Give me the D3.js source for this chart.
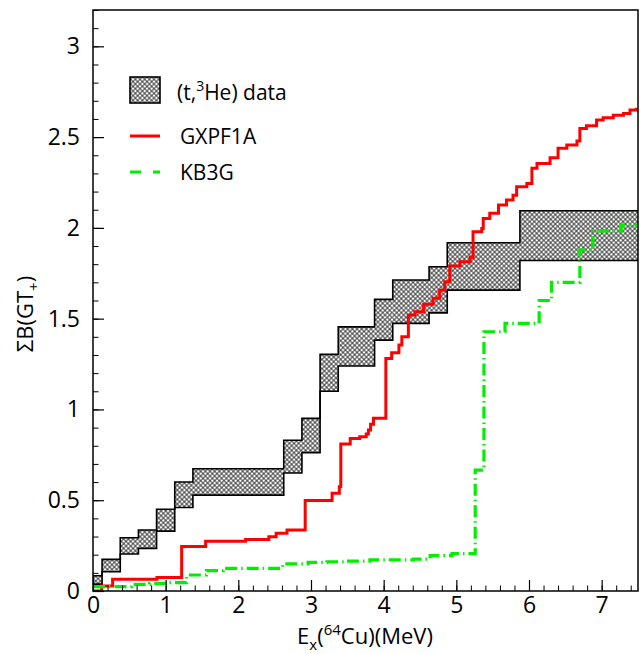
<!DOCTYPE html>
<html>
<head>
<meta charset="utf-8">
<script src="https://cdn.jsdelivr.net/npm/d3@7"></script>
<style>
  body { margin: 0; background: #fff; }
  svg text { font-family: "Open Sans", "DejaVu Sans", sans-serif; fill: #000; }
</style>
</head>
<body>
<svg id="chart" width="640" height="654"></svg>
<script>
// (t,3He) data band: bin edges in MeV and lower / upper sum B(GT+)
const bandEdges = [0, 0.125, 0.375, 0.625, 0.875, 1.125, 1.375, 2.625, 2.875, 3.125, 3.375, 3.875, 4.125, 4.625, 4.875, 5.875, 7.5];
const bandLow  = [0.038, 0.106, 0.204, 0.235, 0.33, 0.46, 0.528, 0.65, 0.762, 1.10, 1.239, 1.382, 1.474, 1.532, 1.657, 1.82];
const bandHigh = [0.084, 0.174, 0.293, 0.336, 0.45, 0.60, 0.673, 0.83, 0.951, 1.303, 1.455, 1.606, 1.713, 1.786, 1.918, 2.094];

// GXPF1A cumulative sum (step after each energy)
const gxE = [0, 0.12, 0.27, 0.88, 1.22, 1.55, 2.10, 2.42, 2.52, 2.67, 2.92, 3.29, 3.39, 3.41, 3.54, 3.67, 3.76, 3.79, 3.82, 3.86,
  4.03, 4.11, 4.21, 4.25, 4.34, 4.43, 4.55, 4.68, 4.77, 4.84, 4.91, 5.05, 5.19, 5.23, 5.35, 5.37, 5.46, 5.58, 5.69, 5.78,
  5.83, 5.97, 6.04, 6.11, 6.29, 6.40, 6.52, 6.66, 6.70, 6.79, 6.93, 7.02, 7.16, 7.30, 7.39, 7.48, 7.5];
const gxSum = [0, 0.028, 0.065, 0.074, 0.245, 0.274, 0.284, 0.299, 0.318, 0.336, 0.498, 0.538, 0.574, 0.81, 0.84, 0.85, 0.865, 0.887, 0.918, 0.951,
  1.281, 1.312, 1.355, 1.40, 1.52, 1.538, 1.58, 1.612, 1.657, 1.703, 1.79, 1.813, 1.838, 1.978, 1.997, 2.052, 2.08, 2.126, 2.153, 2.18,
  2.226, 2.245, 2.328, 2.355, 2.386, 2.438, 2.456, 2.478, 2.548, 2.562, 2.594, 2.606, 2.621, 2.63, 2.649, 2.654, 2.654];

// KB3G cumulative sum
const kbE = [0, 0.53, 0.78, 1.01, 1.29, 1.56, 1.79, 2.61, 2.96, 3.22, 3.49, 3.81, 4.41, 4.64, 4.94, 5.26, 5.38, 5.67, 6.14, 6.31, 6.70, 6.88, 7.27, 7.5];
const kbSum = [0.024, 0.037, 0.042, 0.046, 0.088, 0.112, 0.125, 0.149, 0.158, 0.161, 0.165, 0.171, 0.176, 0.195, 0.206, 0.666, 1.428, 1.474, 1.60, 1.70, 1.878, 1.984, 2.015, 2.015];

const xMajor = [0, 1, 2, 3, 4, 5, 6, 7];
const yMajor = [0, 0.5, 1, 1.5, 2, 2.5, 3];

const svg = d3.select("#chart");
const pLeft = 93, pRight = 638, pTop = 10, pBottom = 591;

const x = d3.scaleLinear().domain([0, 7.5]).range([pLeft, pRight]);
const y = d3.scaleLinear().domain([0, 3.2]).range([pBottom, pTop]);

// cross-hatch pattern
const defs = svg.append("defs");
const pat = defs.append("pattern")
  .attr("id", "hatch")
  .attr("patternUnits", "userSpaceOnUse")
  .attr("width", 3.3).attr("height", 3.3)
  .attr("patternTransform", "rotate(45)");
pat.append("rect").attr("width", 3.3).attr("height", 3.3).attr("fill", "#fff");
pat.append("path").attr("d", "M0,0H3.3M0,3.3H3.3M0,0V3.3M3.3,0V3.3")
  .attr("stroke", "#1a1a1a").attr("stroke-width", 0.8);

defs.append("clipPath").attr("id", "plotClip")
  .append("rect").attr("x", pLeft).attr("y", pTop).attr("width", pRight - pLeft).attr("height", pBottom - pTop);

const plot = svg.append("g").attr("clip-path", "url(#plotClip)");

// band boxes
const boxes = bandLow.map((lo, i) => ({ x0: bandEdges[i], x1: bandEdges[i + 1], lo: lo, hi: bandHigh[i] }));
plot.selectAll(".box")
  .data(boxes)
  .enter().append("rect")
  .attr("class", "box")
  .attr("x", d => x(d.x0))
  .attr("width", d => x(d.x1) - x(d.x0))
  .attr("y", d => y(d.hi))
  .attr("height", d => y(d.lo) - y(d.hi))
  .attr("fill", "url(#hatch)");

// band outline: upper and lower steps, closed at the left end
const stepLine = d3.line().x(d => x(d[0])).y(d => y(d[1])).curve(d3.curveStepAfter);
const upper = bandEdges.map((e, i) => [e, bandHigh[Math.min(i, bandHigh.length - 1)]]);
const lower = bandEdges.map((e, i) => [e, bandLow[Math.min(i, bandLow.length - 1)]]);
plot.append("path").attr("d", stepLine(upper)).attr("fill", "none").attr("stroke", "#000").attr("stroke-width", 1.6);
plot.append("path").attr("d", stepLine(lower)).attr("fill", "none").attr("stroke", "#000").attr("stroke-width", 1.6);
plot.append("line")
  .attr("x1", x(0)).attr("x2", x(0)).attr("y1", y(bandLow[0])).attr("y2", y(bandHigh[0]))
  .attr("stroke", "#000").attr("stroke-width", 1.6);

// GXPF1A
plot.append("path")
  .attr("d", stepLine(gxE.map((e, i) => [e, gxSum[i]])))
  .attr("fill", "none").attr("stroke", "#ff0000").attr("stroke-width", 3);

// KB3G
plot.append("path")
  .attr("d", stepLine(kbE.map((e, i) => [e, kbSum[i]])))
  .attr("fill", "none").attr("stroke", "#00ee00").attr("stroke-width", 3.2)
  .attr("stroke-dasharray", "12,4,1.5,4");

// frame
svg.append("rect")
  .attr("x", pLeft).attr("y", pTop).attr("width", pRight - pLeft).attr("height", pBottom - pTop)
  .attr("fill", "none").attr("stroke", "#000").attr("stroke-width", 1.5);

// axes, ticks pointing inwards
const xMinor = d3.range(0, 7.5001, 0.2).map(v => +v.toFixed(2));
const yMinor = d3.range(0, 3.2001, 0.1).map(v => +v.toFixed(2));

svg.append("g").attr("transform", `translate(0,${pBottom})`)
  .call(d3.axisBottom(x).tickValues(xMinor).tickSize(-5.5).tickFormat(""))
  .call(g => g.select(".domain").remove());
svg.append("g").attr("transform", `translate(${pLeft},0)`)
  .call(d3.axisLeft(y).tickValues(yMinor).tickSize(-5.5).tickFormat(""))
  .call(g => g.select(".domain").remove());

const xAxis = svg.append("g").attr("transform", `translate(0,${pBottom})`)
  .call(d3.axisBottom(x).tickValues(xMajor).tickSize(-11).tickPadding(20).tickFormat(d3.format("~g")));
xAxis.select(".domain").remove();
xAxis.selectAll("line").attr("stroke-width", 1.2);
xAxis.selectAll("text").attr("font-size", 23).attr("dy", "0.1em");

const yAxis = svg.append("g").attr("transform", `translate(${pLeft},0)`)
  .call(d3.axisLeft(y).tickValues(yMajor).tickSize(-11).tickPadding(13).tickFormat(d3.format("~g")));
yAxis.select(".domain").remove();
yAxis.selectAll("line").attr("stroke-width", 1.2);
yAxis.selectAll("text").attr("font-size", 23);

svg.selectAll(".tick line").attr("stroke", "#000");

// axis titles
const xt = svg.append("text").attr("x", 365).attr("y", 644).attr("text-anchor", "middle").attr("font-size", 22);
xt.append("tspan").text("E");
xt.append("tspan").attr("font-size", 15).attr("dy", 6).text("x");
xt.append("tspan").attr("dy", -6).text("(");
xt.append("tspan").attr("font-size", 15).attr("dy", -9).text("64");
xt.append("tspan").attr("dy", 9).text("Cu)(MeV)");

const yt = svg.append("text").attr("transform", "translate(33,314) rotate(-90)").attr("text-anchor", "middle").attr("font-size", 22);
yt.append("tspan").text("ΣB(GT");
yt.append("tspan").attr("font-size", 15).attr("dy", 6).text("+");
yt.append("tspan").attr("dy", -6).text(")");

// legend
const legend = svg.append("g");
legend.append("rect").attr("x", 130).attr("y", 77).attr("width", 30).attr("height", 26)
  .attr("fill", "url(#hatch)").attr("stroke", "#000").attr("stroke-width", 1.6);
const lt = legend.append("text").attr("x", 177).attr("y", 100).attr("font-size", 21);
lt.append("tspan").text("(t,");
lt.append("tspan").attr("font-size", 14).attr("dy", -9).text("3");
lt.append("tspan").attr("dy", 9).text("He) data");

legend.append("line").attr("x1", 130).attr("x2", 160).attr("y1", 136).attr("y2", 136)
  .attr("stroke", "#ff0000").attr("stroke-width", 3);
legend.append("text").attr("x", 180).attr("y", 144).attr("font-size", 21).text("GXPF1A");

legend.append("line").attr("x1", 130).attr("x2", 160).attr("y1", 172).attr("y2", 172)
  .attr("stroke", "#00ee00").attr("stroke-width", 3.2).attr("stroke-dasharray", "11,12,7,0");
legend.append("text").attr("x", 180).attr("y", 180).attr("font-size", 21).text("KB3G");
</script>
</body>
</html>
